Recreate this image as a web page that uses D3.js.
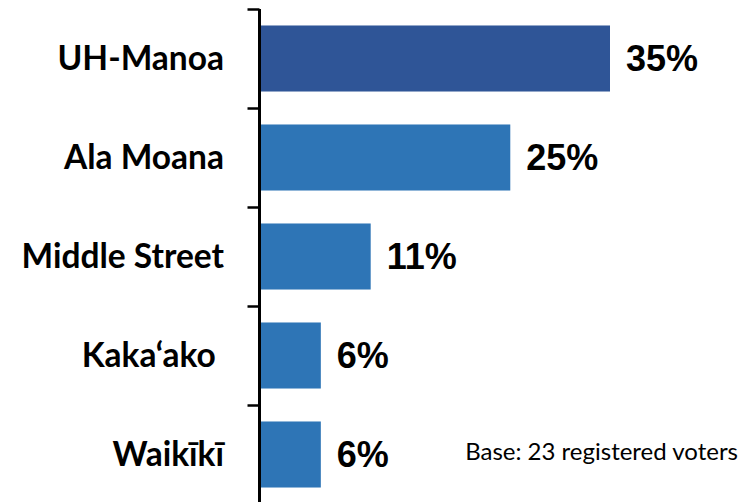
<!DOCTYPE html>
<html><head><meta charset="utf-8">
<script src="https://cdn.jsdelivr.net/npm/d3@7"></script>
<style>html,body{margin:0;padding:0;background:#fff;overflow:hidden}</style>
</head><body>
<script>
const categories = ["UH-Manoa", "Ala Moana", "Middle Street", "Kaka‘ako ", "Waikīkī"];
const values = [35, 25, 11, 6, 6];
const valueLabels = ["35%", "25%", "11%", "6%", "6%"];
const barColors = ["#2F5597", "#2E75B6", "#2E75B6", "#2E75B6", "#2E75B6"];
const baseNote = "Base: 23 registered voters";

const W = 745, H = 502;
const svg = d3.select("body").append("svg").attr("width", W).attr("height", H);

const x = d3.scaleLinear().domain([0, 35]).range([261, 610]);
const y = d3.scaleBand().domain(categories).range([9, 504]).paddingInner(0.333).paddingOuter(0.1665);

// bars
svg.selectAll("rect.bar").data(categories).enter().append("rect")
  .attr("class", "bar")
  .attr("x", x(0))
  .attr("y", d => y(d))
  .attr("width", (d, i) => x(values[i]) - x(0))
  .attr("height", y.bandwidth())
  .attr("fill", (d, i) => barColors[i]);

// axis with ticks at band boundaries
const tickScale = d3.scaleLinear().domain([0, categories.length]).range([9, 504]);
const axis = d3.axisLeft(tickScale).ticks(categories.length).tickSize(12).tickFormat("");
const ag = svg.append("g").attr("transform", "translate(259.5,0)").call(axis);
ag.select(".domain").attr("stroke", "#000").attr("stroke-width", 3).attr("d", "M0,9V504");
ag.selectAll(".tick line").attr("stroke", "#000").attr("stroke-width", 2.5);

// category labels
svg.selectAll("text.cat").data(categories).enter().append("text")
  .attr("class", "cat")
  .attr("x", 224)
  .attr("y", d => y(d) + y.bandwidth() / 2)
  .attr("dy", "0.35em")
  .attr("text-anchor", "end")
  .style("white-space", "pre")
  .attr("font-family", "Lato, 'Open Sans', sans-serif")
  .attr("font-weight", "bold")
  .attr("font-size", 33.5)
  .attr("fill", "#000")
  .text(d => d);

// value labels
svg.selectAll("text.val").data(categories).enter().append("text")
  .attr("class", "val")
  .attr("x", (d, i) => x(values[i]) + 16)
  .attr("y", d => y(d) + y.bandwidth() / 2)
  .attr("dy", "0.36em")
  .attr("font-family", "'Liberation Sans', Arial, sans-serif")
  .attr("font-weight", "bold")
  .attr("font-size", 36)
  .attr("fill", "#000")
  .text((d, i) => valueLabels[i]);

// base note
svg.append("text")
  .attr("x", 738)
  .attr("y", 460)
  .attr("text-anchor", "end")
  .attr("font-family", "Lato, 'Open Sans', sans-serif")
  .attr("font-size", 24)
  .attr("fill", "#000")
  .text(baseNote);
</script>
</body></html>
